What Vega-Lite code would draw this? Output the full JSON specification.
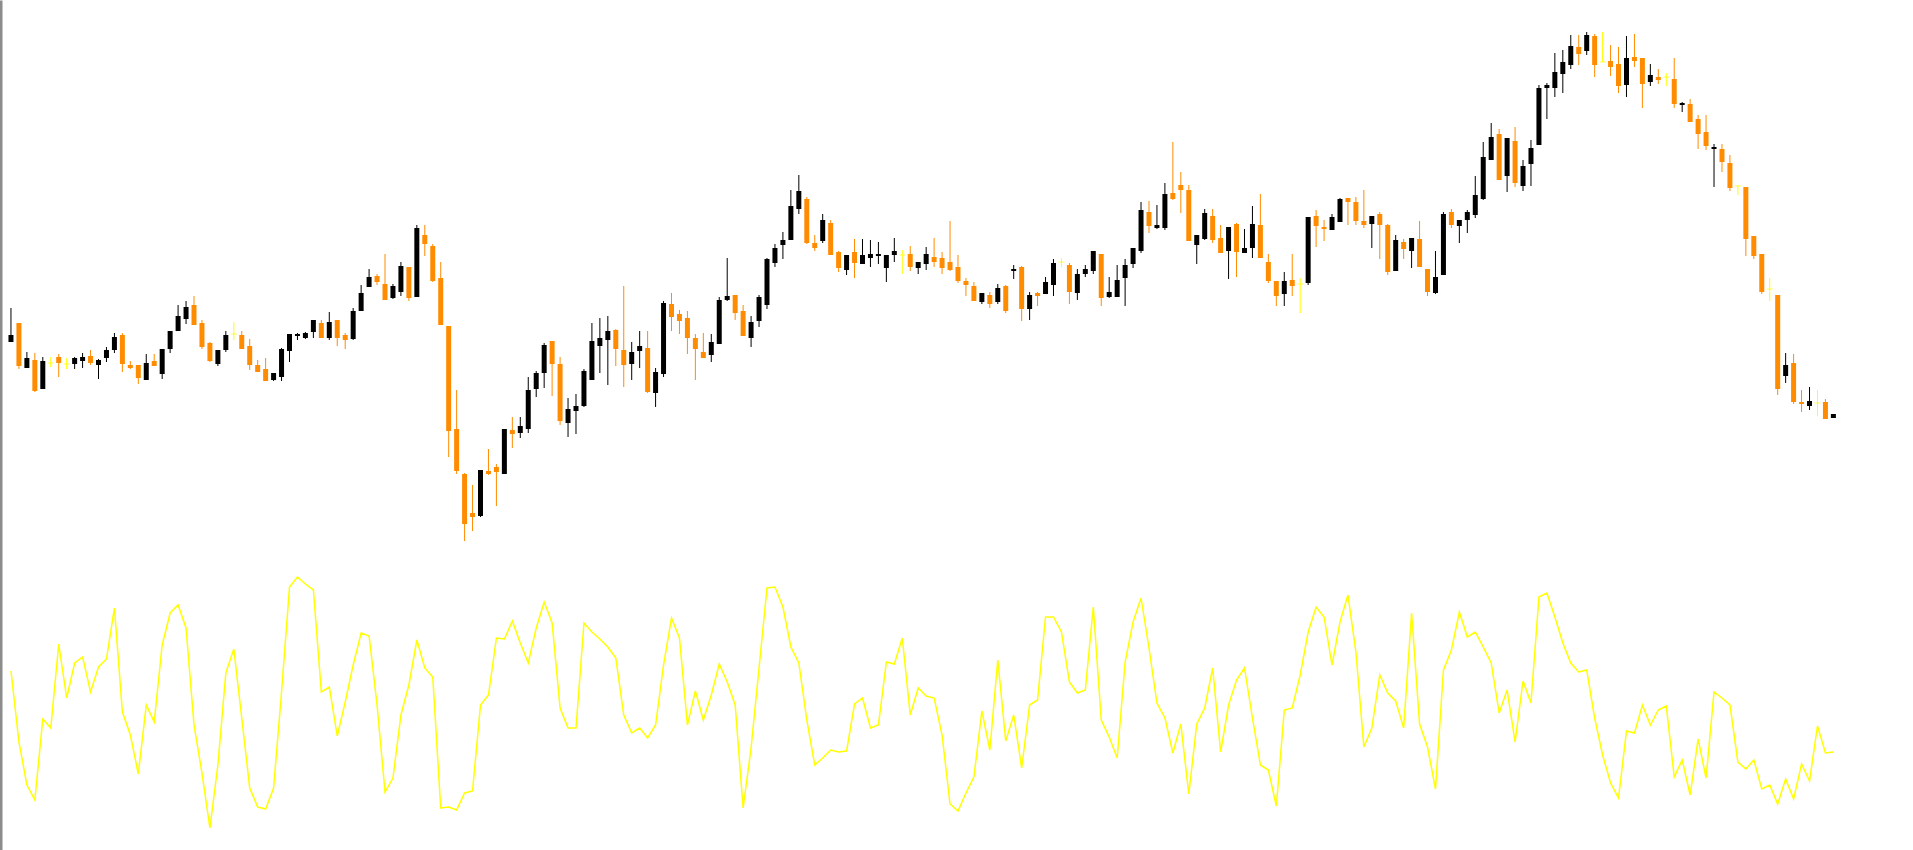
{
"$schema": "https://vega.github.io/schema/vega-lite/v6.json",
"width": 1913, "height": 850,
"autosize": {"type": "none"},
"padding": 0,
"background": "white",
"view": {"stroke": null},
"data": {"values": [
{"i":0,"o":658,"h":692,"l":658,"c":665,"v":179},
{"i":1,"o":677,"h":677,"l":631,"c":634,"v":108},
{"i":2,"o":632,"h":648,"l":632,"c":642,"v":65},
{"i":3,"o":640,"h":647,"l":608,"c":609,"v":50},
{"i":4,"o":611,"h":643,"l":611,"c":639,"v":131},
{"i":5,"o":637,"h":643,"l":633,"c":637,"v":122},
{"i":6,"o":643,"h":646,"l":623,"c":637,"v":206},
{"i":7,"o":636,"h":642,"l":631,"c":636,"v":152},
{"i":8,"o":636,"h":643,"l":631,"c":642,"v":187},
{"i":9,"o":639,"h":647,"l":632,"c":643,"v":193},
{"i":10,"o":644,"h":650,"l":635,"c":637,"v":158},
{"i":11,"o":635,"h":641,"l":621,"c":640,"v":183},
{"i":12,"o":642,"h":653,"l":638,"c":650,"v":191},
{"i":13,"o":650,"h":667,"l":647,"c":663,"v":242},
{"i":14,"o":665,"h":667,"l":628,"c":636,"v":138},
{"i":15,"o":635,"h":639,"l":631,"c":632,"v":115},
{"i":16,"o":635,"h":635,"l":616,"c":622,"v":76},
{"i":17,"o":620,"h":646,"l":620,"c":637,"v":145},
{"i":18,"o":639,"h":646,"l":634,"c":634,"v":128},
{"i":19,"o":626,"h":651,"l":621,"c":651,"v":205},
{"i":20,"o":651,"h":669,"l":647,"c":669,"v":237},
{"i":21,"o":669,"h":695,"l":669,"c":684,"v":245},
{"i":22,"o":681,"h":699,"l":676,"c":693,"v":222},
{"i":23,"o":695,"h":704,"l":675,"c":675,"v":125},
{"i":24,"o":677,"h":680,"l":651,"c":653,"v":77},
{"i":25,"o":657,"h":658,"l":638,"c":639,"v":22},
{"i":26,"o":636,"h":650,"l":634,"c":650,"v":85},
{"i":27,"o":650,"h":669,"l":648,"c":665,"v":177},
{"i":28,"o":666,"h":678,"l":660,"c":666,"v":201},
{"i":29,"o":665,"h":669,"l":651,"c":651,"v":132},
{"i":30,"o":654,"h":661,"l":630,"c":635,"v":62},
{"i":31,"o":635,"h":640,"l":628,"c":628,"v":43},
{"i":32,"o":631,"h":642,"l":619,"c":619,"v":41},
{"i":33,"o":620,"h":627,"l":619,"c":627,"v":62},
{"i":34,"o":623,"h":652,"l":619,"c":651,"v":158},
{"i":35,"o":649,"h":666,"l":638,"c":666,"v":263},
{"i":36,"o":664,"h":667,"l":660,"c":666,"v":273},
{"i":37,"o":662,"h":668,"l":661,"c":667,"v":266},
{"i":38,"o":668,"h":680,"l":662,"c":680,"v":260},
{"i":39,"o":677,"h":680,"l":662,"c":662,"v":158},
{"i":40,"o":662,"h":688,"l":660,"c":678,"v":163},
{"i":41,"o":680,"h":680,"l":654,"c":662,"v":114},
{"i":42,"o":665,"h":667,"l":651,"c":660,"v":148},
{"i":43,"o":661,"h":692,"l":660,"c":689,"v":185},
{"i":44,"o":689,"h":715,"l":689,"c":707,"v":217},
{"i":45,"o":713,"h":731,"l":713,"c":723,"v":214},
{"i":46,"o":724,"h":726,"l":715,"c":718,"v":145},
{"i":47,"o":716,"h":746,"l":700,"c":700,"v":58},
{"i":48,"o":702,"h":716,"l":701,"c":714,"v":72},
{"i":49,"o":708,"h":738,"l":704,"c":734,"v":135},
{"i":50,"o":733,"h":733,"l":699,"c":702,"v":165},
{"i":51,"o":703,"h":775,"l":703,"c":772,"v":210},
{"i":52,"o":765,"h":775,"l":744,"c":756,"v":182},
{"i":53,"o":754,"h":756,"l":718,"c":719,"v":173},
{"i":54,"o":722,"h":738,"l":675,"c":675,"v":42},
{"i":55,"o":674,"h":674,"l":543,"c":569,"v":43},
{"i":56,"o":571,"h":610,"l":526,"c":529,"v":40},
{"i":57,"o":526,"h":527,"l":459,"c":476,"v":57},
{"i":58,"o":487,"h":515,"l":469,"c":483,"v":59},
{"i":59,"o":484,"h":530,"l":483,"c":530,"v":145},
{"i":60,"o":529,"h":551,"l":525,"c":526,"v":155},
{"i":61,"o":533,"h":536,"l":494,"c":528,"v":212},
{"i":62,"o":526,"h":571,"l":526,"c":571,"v":211},
{"i":63,"o":570,"h":583,"l":552,"c":566,"v":229},
{"i":64,"o":567,"h":583,"l":562,"c":574,"v":207},
{"i":65,"o":571,"h":623,"l":567,"c":610,"v":187},
{"i":66,"o":611,"h":629,"l":603,"c":627,"v":222},
{"i":67,"o":627,"h":657,"l":612,"c":655,"v":248},
{"i":68,"o":659,"h":659,"l":604,"c":636,"v":227},
{"i":69,"o":636,"h":643,"l":575,"c":579,"v":142},
{"i":70,"o":577,"h":602,"l":563,"c":591,"v":122},
{"i":71,"o":589,"h":606,"l":566,"c":594,"v":122},
{"i":72,"o":594,"h":631,"l":593,"c":629,"v":227},
{"i":73,"o":620,"h":677,"l":620,"c":659,"v":218},
{"i":74,"o":654,"h":682,"l":627,"c":662,"v":211},
{"i":75,"o":660,"h":684,"l":615,"c":669,"v":203},
{"i":76,"o":670,"h":671,"l":634,"c":651,"v":192},
{"i":77,"o":650,"h":714,"l":613,"c":635,"v":135},
{"i":78,"o":636,"h":658,"l":620,"c":648,"v":117},
{"i":79,"o":649,"h":669,"l":632,"c":654,"v":122},
{"i":80,"o":652,"h":669,"l":607,"c":608,"v":112},
{"i":81,"o":607,"h":632,"l":593,"c":628,"v":125},
{"i":82,"o":626,"h":699,"l":623,"c":697,"v":185},
{"i":83,"o":696,"h":707,"l":669,"c":683,"v":232},
{"i":84,"o":686,"h":690,"l":666,"c":679,"v":212},
{"i":85,"o":682,"h":689,"l":646,"c":662,"v":125},
{"i":86,"o":662,"h":666,"l":620,"c":651,"v":159},
{"i":87,"o":648,"h":667,"l":642,"c":642,"v":130},
{"i":88,"o":645,"h":666,"l":638,"c":658,"v":155},
{"i":89,"o":656,"h":703,"l":656,"c":700,"v":186},
{"i":90,"o":700,"h":742,"l":699,"c":704,"v":168},
{"i":91,"o":705,"h":705,"l":680,"c":687,"v":145},
{"i":92,"o":689,"h":695,"l":664,"c":664,"v":42},
{"i":93,"o":662,"h":684,"l":653,"c":678,"v":102},
{"i":94,"o":679,"h":705,"l":673,"c":703,"v":182},
{"i":95,"o":695,"h":742,"l":691,"c":741,"v":262},
{"i":96,"o":737,"h":756,"l":733,"c":752,"v":263},
{"i":97,"o":755,"h":768,"l":741,"c":760,"v":243},
{"i":98,"o":760,"h":810,"l":760,"c":794,"v":203},
{"i":99,"o":791,"h":825,"l":786,"c":809,"v":187},
{"i":100,"o":801,"h":803,"l":756,"c":757,"v":130},
{"i":101,"o":757,"h":765,"l":749,"c":752,"v":85},
{"i":102,"o":759,"h":786,"l":757,"c":780,"v":92},
{"i":103,"o":777,"h":780,"l":745,"c":745,"v":100},
{"i":104,"o":748,"h":749,"l":728,"c":732,"v":98},
{"i":105,"o":730,"h":745,"l":725,"c":745,"v":99},
{"i":106,"o":748,"h":761,"l":722,"c":737,"v":146},
{"i":107,"o":736,"h":761,"l":736,"c":745,"v":152},
{"i":108,"o":742,"h":760,"l":733,"c":746,"v":122},
{"i":109,"o":744,"h":758,"l":736,"c":746,"v":125},
{"i":110,"o":732,"h":745,"l":718,"c":745,"v":188},
{"i":111,"o":745,"h":762,"l":738,"c":749,"v":186},
{"i":112,"o":745,"h":750,"l":726,"c":745,"v":212},
{"i":113,"o":746,"h":754,"l":729,"c":733,"v":135},
{"i":114,"o":732,"h":738,"l":726,"c":738,"v":162},
{"i":115,"o":736,"h":753,"l":730,"c":746,"v":154},
{"i":116,"o":743,"h":762,"l":733,"c":738,"v":152},
{"i":117,"o":742,"h":748,"l":726,"c":732,"v":115},
{"i":118,"o":738,"h":779,"l":729,"c":730,"v":46},
{"i":119,"o":733,"h":745,"l":717,"c":719,"v":39},
{"i":120,"o":719,"h":722,"l":704,"c":715,"v":57},
{"i":121,"o":714,"h":718,"l":699,"c":699,"v":73},
{"i":122,"o":698,"h":707,"l":696,"c":707,"v":139},
{"i":123,"o":705,"h":708,"l":692,"c":696,"v":100},
{"i":124,"o":698,"h":716,"l":696,"c":712,"v":190},
{"i":125,"o":714,"h":715,"l":687,"c":689,"v":109},
{"i":126,"o":729,"h":735,"l":721,"c":731,"v":135},
{"i":127,"o":733,"h":734,"l":679,"c":691,"v":82},
{"i":128,"o":691,"h":708,"l":680,"c":705,"v":145},
{"i":129,"o":707,"h":708,"l":694,"c":704,"v":150},
{"i":130,"o":706,"h":723,"l":706,"c":718,"v":233},
{"i":131,"o":715,"h":741,"l":704,"c":737,"v":233},
{"i":132,"o":738,"h":742,"l":733,"c":738,"v":218},
{"i":133,"o":735,"h":737,"l":696,"c":708,"v":168},
{"i":134,"o":707,"h":731,"l":700,"c":726,"v":157},
{"i":135,"o":726,"h":735,"l":723,"c":731,"v":160},
{"i":136,"o":729,"h":749,"l":726,"c":749,"v":243},
{"i":137,"o":746,"h":746,"l":694,"c":702,"v":130},
{"i":138,"o":703,"h":723,"l":702,"c":708,"v":113},
{"i":139,"o":703,"h":735,"l":703,"c":720,"v":92},
{"i":140,"o":722,"h":741,"l":694,"c":735,"v":188},
{"i":141,"o":736,"h":752,"l":732,"c":752,"v":228},
{"i":142,"o":749,"h":798,"l":747,"c":790,"v":252},
{"i":143,"o":788,"h":799,"l":767,"c":774,"v":202},
{"i":144,"o":772,"h":795,"l":771,"c":775,"v":147},
{"i":145,"o":772,"h":817,"l":770,"c":806,"v":132},
{"i":146,"o":807,"h":858,"l":800,"c":801,"v":97},
{"i":147,"o":815,"h":828,"l":787,"c":810,"v":126},
{"i":148,"o":810,"h":815,"l":759,"c":759,"v":56},
{"i":149,"o":755,"h":765,"l":736,"c":765,"v":126},
{"i":150,"o":761,"h":791,"l":760,"c":787,"v":142},
{"i":151,"o":784,"h":791,"l":757,"c":760,"v":182},
{"i":152,"o":762,"h":775,"l":747,"c":747,"v":98},
{"i":153,"o":749,"h":773,"l":721,"c":773,"v":145},
{"i":154,"o":776,"h":777,"l":723,"c":748,"v":170},
{"i":155,"o":747,"h":771,"l":747,"c":752,"v":182},
{"i":156,"o":752,"h":794,"l":742,"c":776,"v":132},
{"i":157,"o":775,"h":806,"l":742,"c":742,"v":85},
{"i":158,"o":738,"h":746,"l":717,"c":719,"v":80},
{"i":159,"o":719,"h":719,"l":694,"c":704,"v":44},
{"i":160,"o":706,"h":728,"l":694,"c":719,"v":140},
{"i":161,"o":720,"h":746,"l":704,"c":714,"v":142},
{"i":162,"o":716,"h":722,"l":687,"c":716,"v":175},
{"i":163,"o":717,"h":783,"l":715,"c":783,"v":218},
{"i":164,"o":784,"h":790,"l":753,"c":774,"v":243},
{"i":165,"o":773,"h":780,"l":759,"c":771,"v":233},
{"i":166,"o":770,"h":786,"l":770,"c":783,"v":185},
{"i":167,"o":778,"h":802,"l":778,"c":801,"v":228},
{"i":168,"o":802,"h":802,"l":775,"c":798,"v":255},
{"i":169,"o":798,"h":803,"l":775,"c":779,"v":198},
{"i":170,"o":779,"h":810,"l":772,"c":775,"v":103},
{"i":171,"o":776,"h":784,"l":752,"c":784,"v":122},
{"i":172,"o":786,"h":788,"l":741,"c":775,"v":175},
{"i":173,"o":775,"h":776,"l":725,"c":728,"v":157},
{"i":174,"o":729,"h":765,"l":729,"c":760,"v":149},
{"i":175,"o":758,"h":761,"l":741,"c":751,"v":122},
{"i":176,"o":749,"h":762,"l":732,"c":762,"v":237},
{"i":177,"o":761,"h":779,"l":733,"c":733,"v":126},
{"i":178,"o":731,"h":731,"l":704,"c":708,"v":103},
{"i":179,"o":707,"h":749,"l":706,"c":723,"v":61},
{"i":180,"o":725,"h":788,"l":725,"c":786,"v":180},
{"i":181,"o":788,"h":791,"l":772,"c":775,"v":200},
{"i":182,"o":774,"h":780,"l":757,"c":780,"v":238},
{"i":183,"o":780,"h":790,"l":767,"c":788,"v":213},
{"i":184,"o":785,"h":824,"l":782,"c":805,"v":218},
{"i":185,"o":801,"h":858,"l":800,"c":843,"v":203},
{"i":186,"o":840,"h":877,"l":840,"c":863,"v":187},
{"i":187,"o":866,"h":871,"l":820,"c":820,"v":137},
{"i":188,"o":824,"h":862,"l":808,"c":862,"v":160},
{"i":189,"o":859,"h":873,"l":813,"c":817,"v":108},
{"i":190,"o":814,"h":840,"l":809,"c":834,"v":169},
{"i":191,"o":836,"h":860,"l":814,"c":852,"v":147},
{"i":192,"o":855,"h":915,"l":855,"c":912,"v":253},
{"i":193,"o":912,"h":917,"l":881,"c":915,"v":257},
{"i":194,"o":912,"h":947,"l":903,"c":928,"v":233},
{"i":195,"o":926,"h":950,"l":907,"c":938,"v":207},
{"i":196,"o":935,"h":965,"l":931,"c":954,"v":187},
{"i":197,"o":953,"h":965,"l":935,"c":946,"v":178},
{"i":198,"o":949,"h":968,"l":945,"c":965,"v":180},
{"i":199,"o":964,"h":966,"l":923,"c":935,"v":132},
{"i":200,"o":938,"h":968,"l":938,"c":938,"v":95},
{"i":201,"o":939,"h":955,"l":924,"c":933,"v":67},
{"i":202,"o":936,"h":953,"l":907,"c":914,"v":52},
{"i":203,"o":915,"h":964,"l":903,"c":942,"v":119},
{"i":204,"o":943,"h":966,"l":933,"c":939,"v":117},
{"i":205,"o":942,"h":942,"l":892,"c":916,"v":145},
{"i":206,"o":918,"h":936,"l":914,"c":925,"v":125},
{"i":207,"o":923,"h":931,"l":916,"c":920,"v":140},
{"i":208,"o":923,"h":927,"l":914,"c":923,"v":144},
{"i":209,"o":921,"h":942,"l":892,"c":896,"v":73},
{"i":210,"o":895,"h":898,"l":888,"c":897,"v":90},
{"i":211,"o":896,"h":901,"l":878,"c":878,"v":55},
{"i":212,"o":881,"h":885,"l":851,"c":866,"v":111},
{"i":213,"o":868,"h":885,"l":850,"c":854,"v":72},
{"i":214,"o":851,"h":856,"l":813,"c":853,"v":158},
{"i":215,"o":851,"h":856,"l":828,"c":838,"v":152},
{"i":216,"o":837,"h":845,"l":809,"c":812,"v":145},
{"i":217,"o":814,"h":815,"l":805,"c":814,"v":88},
{"i":218,"o":813,"h":813,"l":744,"c":761,"v":81},
{"i":219,"o":764,"h":764,"l":741,"c":744,"v":90},
{"i":220,"o":746,"h":746,"l":706,"c":708,"v":61},
{"i":221,"o":711,"h":722,"l":699,"c":711,"v":65},
{"i":222,"o":705,"h":705,"l":605,"c":611,"v":46},
{"i":223,"o":624,"h":647,"l":617,"c":635,"v":71},
{"i":224,"o":637,"h":646,"l":596,"c":598,"v":51},
{"i":225,"o":598,"h":610,"l":588,"c":596,"v":86},
{"i":226,"o":594,"h":613,"l":590,"c":599,"v":69},
{"i":227,"o":597,"h":610,"l":584,"c":597,"v":124},
{"i":228,"o":598,"h":601,"l":581,"c":581,"v":97},
{"i":229,"o":582,"h":586,"l":582,"c":586,"v":98}
]},
"layer": [
 {"layer": [
  {"mark": {"type": "rule", "strokeWidth": 1},
   "encoding": {
    "x": {"field": "i", "type": "quantitative", "scale": {"domain": [-0.75, 238.375], "nice": false, "zero": false}, "axis": null},
    "y": {"field": "l", "type": "quantitative", "scale": {"domain": [150, 1000], "nice": false, "zero": false},
          "axis": {"domain": true, "domainColor": "#8c8c8c", "domainWidth": 4, "ticks": false, "labels": false, "grid": false, "title": null}},
    "y2": {"field": "h"},
    "color": {"condition": [{"test": "datum.c > datum.o", "value": "#000000"}, {"test": "datum.c < datum.o", "value": "#FF8C00"}], "value": "#FFFF00"}
   }},
  {"mark": {"type": "bar", "width": 5},
   "encoding": {
    "x": {"field": "i", "type": "quantitative", "scale": {"domain": [-0.75, 238.375], "nice": false, "zero": false}, "axis": null},
    "y": {"field": "o", "type": "quantitative", "scale": {"domain": [150, 1000], "nice": false, "zero": false}},
    "y2": {"field": "c"},
    "color": {"condition": [{"test": "datum.c > datum.o", "value": "#000000"}, {"test": "datum.c < datum.o", "value": "#FF8C00"}], "value": "#FFFF00"}
   }},
  {"transform": [{"filter": "datum.o == datum.c"}],
   "mark": {"type": "tick", "orient": "horizontal", "size": 6, "thickness": 1},
   "encoding": {
    "x": {"field": "i", "type": "quantitative", "scale": {"domain": [-0.75, 238.375], "nice": false, "zero": false}, "axis": null},
    "y": {"field": "c", "type": "quantitative", "scale": {"domain": [150, 1000], "nice": false, "zero": false}},
    "color": {"value": "#FFFF00"}
   }}
 ]},
 {"mark": {"type": "line", "color": "#FFFF00", "strokeWidth": 1.5},
  "encoding": {
   "x": {"field": "i", "type": "quantitative", "scale": {"domain": [-0.75, 238.375], "nice": false, "zero": false}, "axis": null},
   "y": {"field": "v", "type": "quantitative", "scale": {"domain": [0, 850], "nice": false, "zero": false}, "axis": null}
  }}
],
"resolve": {"scale": {"y": "independent"}}
}
